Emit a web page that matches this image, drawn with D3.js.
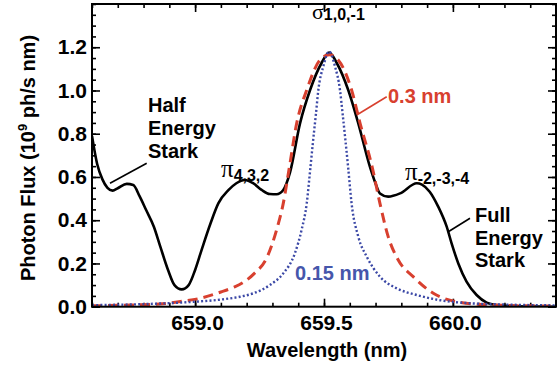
<!DOCTYPE html>
<html>
<head>
<meta charset="utf-8">
<script src="https://cdnjs.cloudflare.com/ajax/libs/d3/7.8.5/d3.min.js"></script>
<style>
  html, body { margin: 0; padding: 0; background: #fff; }
  svg { display: block; }
  text { font-family: "Liberation Sans", Arial, Helvetica, sans-serif; font-weight: bold; }
</style>
</head>
<body>
<div id="chart"></div>
<script>
// wavelength (nm) / photon flux (1e9 ph/s nm)
var fullWl = [658.60, 658.62, 658.64, 658.66, 658.68, 658.70, 658.735, 658.76, 658.785, 658.81,
  658.84, 658.865, 658.895, 658.92, 658.948, 658.975, 659.00, 659.025, 659.06, 659.09,
  659.13, 659.16, 659.193, 659.225, 659.258, 659.29, 659.316, 659.342, 659.368, 659.407,
  659.446, 659.49, 659.52, 659.55, 659.594, 659.633, 659.678, 659.70, 659.717, 659.749,
  659.795, 659.86, 659.88, 659.91, 659.943, 659.976, 659.995, 660.021, 660.053, 660.092,
  660.131, 660.17, 660.25, 660.40];
var fullFlux = [0.79, 0.66, 0.59, 0.55, 0.537, 0.548, 0.568, 0.563, 0.51, 0.447,
  0.37, 0.278, 0.17, 0.10, 0.08, 0.10, 0.17, 0.262, 0.386, 0.478,
  0.54, 0.571, 0.586, 0.571, 0.54, 0.521, 0.52, 0.54, 0.62, 0.848,
  1.002, 1.126, 1.175, 1.126, 1.002, 0.848, 0.648, 0.57, 0.524, 0.509,
  0.524, 0.571, 0.565, 0.532, 0.463, 0.37, 0.293, 0.20, 0.116, 0.054,
  0.019, 0.008, 0.002, 0.0];

var gaussWl = [658.60, 658.75, 658.86, 658.95, 659.02, 659.10, 659.15, 659.19, 659.23, 659.28,
  659.316, 659.342, 659.365, 659.394, 659.433, 659.484, 659.52, 659.555, 659.607, 659.64,
  659.688, 659.717, 659.749, 659.788, 659.846, 659.924, 660.015, 660.144, 660.40];
var gaussFlux = [0.004, 0.008, 0.012, 0.025, 0.039, 0.068, 0.09, 0.115, 0.154, 0.231,
  0.355, 0.478, 0.64, 0.848, 1.002, 1.141, 1.165, 1.141, 1.002, 0.848,
  0.64, 0.478, 0.324, 0.216, 0.139, 0.062, 0.023, 0.008, 0.003];

var narrowWl = [658.60, 658.80, 659.00, 659.10, 659.174, 659.226, 659.29, 659.342, 659.387, 659.413,
  659.433, 659.447, 659.458, 659.469, 659.478, 659.497, 659.52, 659.543, 659.562, 659.572,
  659.583, 659.594, 659.607, 659.633, 659.666, 659.717, 659.782, 659.86, 659.95, 660.066,
  660.20, 660.40];
var narrowFlux = [0.007, 0.012, 0.023, 0.033, 0.046, 0.062, 0.10, 0.154, 0.247, 0.355,
  0.478, 0.64, 0.771, 0.895, 1.002, 1.11, 1.18, 1.11, 1.002, 0.895,
  0.771, 0.64, 0.478, 0.324, 0.231, 0.139, 0.085, 0.054, 0.03, 0.016,
  0.01, 0.006];

var xTicks = [659.0, 659.5, 660.0];
var yTicks = [0.0, 0.2, 0.4, 0.6, 0.8, 1.0, 1.2];

var width = 557, height = 368;
var svg = d3.select('#chart').append('svg')
  .attr('width', width)
  .attr('height', height);

svg.append('rect').attr('width', width).attr('height', height).attr('fill', '#fff');

var x = d3.scaleLinear().domain([658.6, 660.4]).range([92, 556]);
var y = d3.scaleLinear().domain([0, 1.4]).range([306.7, 4]);

var xMinor = d3.range(658.6, 660.41, 0.1).map(d => +d.toFixed(1));
var yMinor = d3.range(0, 1.41, 0.05).map(d => +d.toFixed(2));

function styleAxis(g) {
  g.select('.domain').remove();
  g.selectAll('.tick line').attr('stroke', '#000').attr('stroke-width', 1.6);
}

// bottom
svg.append('g').attr('transform', 'translate(0,' + y(0) + ')')
  .call(d3.axisBottom(x).tickValues(xMinor).tickSize(-4).tickFormat(''))
  .call(styleAxis);
svg.append('g').attr('transform', 'translate(0,' + y(0) + ')')
  .call(d3.axisBottom(x).tickValues(xTicks).tickSize(-8).tickPadding(8).tickFormat(d3.format('.1f')))
  .call(styleAxis)
  .selectAll('text').attr('font-size', 21).attr('fill', '#000').attr('dx', 2)
  .style('font-family', '"Liberation Sans", Arial, sans-serif').style('font-weight', 'bold');
// top
svg.append('g').attr('transform', 'translate(0,' + y(1.4) + ')')
  .call(d3.axisTop(x).tickValues(xMinor).tickSize(-4).tickFormat(''))
  .call(styleAxis);
svg.append('g').attr('transform', 'translate(0,' + y(1.4) + ')')
  .call(d3.axisTop(x).tickValues(xTicks).tickSize(-8).tickFormat(''))
  .call(styleAxis);
// left
svg.append('g').attr('transform', 'translate(' + x(658.6) + ',0)')
  .call(d3.axisLeft(y).tickValues(yMinor).tickSize(-4).tickFormat(''))
  .call(styleAxis);
svg.append('g').attr('transform', 'translate(' + x(658.6) + ',0)')
  .call(d3.axisLeft(y).tickValues(yTicks).tickSize(-8).tickPadding(5).tickFormat(d3.format('.1f')))
  .call(styleAxis)
  .selectAll('text').attr('font-size', 21).attr('fill', '#000')
  .style('font-family', '"Liberation Sans", Arial, sans-serif').style('font-weight', 'bold');
// right
svg.append('g').attr('transform', 'translate(' + x(660.4) + ',0)')
  .call(d3.axisRight(y).tickValues(yMinor).tickSize(-4).tickFormat(''))
  .call(styleAxis);
svg.append('g').attr('transform', 'translate(' + x(660.4) + ',0)')
  .call(d3.axisRight(y).tickValues(yTicks).tickSize(-8).tickFormat(''))
  .call(styleAxis);

// curves
var line = d3.line()
  .x(d => x(d[0]))
  .y(d => y(d[1]))
  .curve(d3.curveMonotoneX);

var clip = svg.append('clipPath').attr('id', 'plotclip')
  .append('rect')
  .attr('x', x(658.6)).attr('y', y(1.4))
  .attr('width', x(660.4) - x(658.6)).attr('height', y(0) - y(1.4));

var plot = svg.append('g').attr('clip-path', 'url(#plotclip)');

plot.append('path')
  .attr('d', line(d3.zip(fullWl, fullFlux)))
  .attr('fill', 'none').attr('stroke', '#000').attr('stroke-width', 2.6);

plot.append('path')
  .attr('d', line(d3.zip(gaussWl, gaussFlux)))
  .attr('fill', 'none').attr('stroke', '#d8402f').attr('stroke-width', 3)
  .attr('stroke-dasharray', '10,6');

plot.append('path')
  .attr('d', line(d3.zip(narrowWl, narrowFlux)))
  .attr('fill', 'none').attr('stroke', '#3b48a6').attr('stroke-width', 2.4)
  .attr('stroke-dasharray', '2,2.2');

// frame
svg.append('rect')
  .attr('x', x(658.6)).attr('y', y(1.4))
  .attr('width', x(660.4) - x(658.6)).attr('height', y(0) - y(1.4))
  .attr('fill', 'none').attr('stroke', '#000').attr('stroke-width', 2);

// axis titles
svg.append('text')
  .attr('x', 327).attr('y', 357)
  .attr('text-anchor', 'middle').attr('font-size', 20)
  .text('Wavelength (nm)');

var yt = svg.append('text')
  .attr('transform', 'translate(35,158) rotate(-90)')
  .attr('text-anchor', 'middle').attr('font-size', 20);
yt.append('tspan').text('Photon Flux (10');
yt.append('tspan').attr('font-size', 13).attr('dy', -8).text('9');
yt.append('tspan').attr('dy', 8).text(' ph/s nm)');

// annotations
function block(x0, y0, lines, gap) {
  var t = svg.append('text').attr('font-size', 20).attr('fill', '#000');
  lines.forEach((s, i) => {
    t.append('tspan').attr('x', x0).attr('y', y0 + i * gap).text(s);
  });
}
block(148, 112, ['Half', 'Energy', 'Stark'], 23);
block(475, 222, ['Full', 'Energy', 'Stark'], 22.5);

svg.append('line').attr('x1', 146.7).attr('y1', 163.3).attr('x2', 110).attr('y2', 183.3)
  .attr('stroke', '#000').attr('stroke-width', 1.6);
svg.append('line').attr('x1', 470).attr('y1', 218.3).attr('x2', 448.3).attr('y2', 231.7)
  .attr('stroke', '#000').attr('stroke-width', 1.6);
svg.append('line').attr('x1', 386.7).attr('y1', 96.7).attr('x2', 356.7).attr('y2', 115)
  .attr('stroke', '#d8402f').attr('stroke-width', 1.6);

svg.append('text').attr('x', 388).attr('y', 103).attr('font-size', 20)
  .attr('fill', '#d8402f').text('0.3 nm');
svg.append('text').attr('x', 295).attr('y', 280).attr('font-size', 20)
  .attr('fill', '#4656ab').text('0.15 nm');

function greek(x0, y0, ch, size, sub, dy) {
  var t = svg.append('text').attr('x', x0).attr('y', y0).attr('fill', '#000');
  t.append('tspan').text(ch)
    .style('font-family', '"Liberation Serif", "Times New Roman", serif')
    .style('font-weight', 'normal').attr('font-size', size);
  t.append('tspan').attr('dy', dy).attr('font-size', 16).text(sub);
}
greek(221, 177, 'π', 25, '4,3,2', 4);
greek(405, 180, 'π', 25, '-2,-3,-4', 4);
greek(312, 19, 'σ', 22, '1,0,-1', 1);
</script>
</body>
</html>
